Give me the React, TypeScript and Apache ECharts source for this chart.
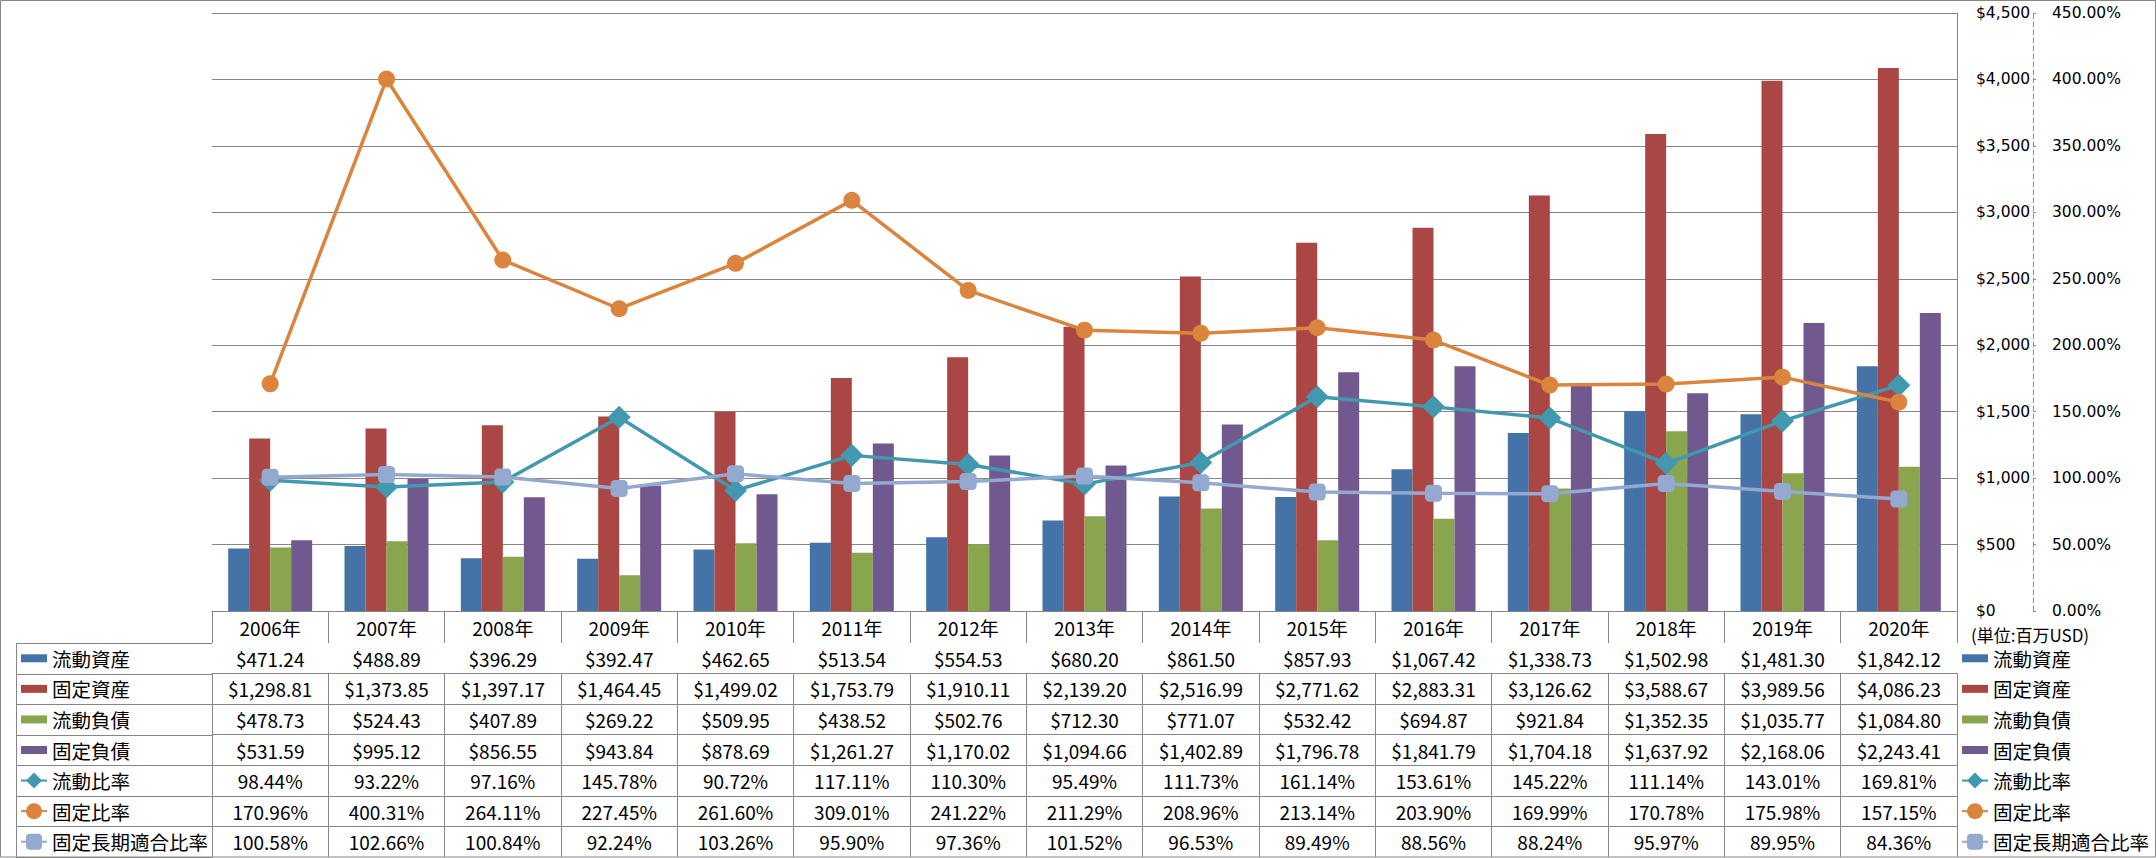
import React, { useEffect, useRef } from 'react';
import * as echarts from 'echarts';

const years = ['2006年', '2007年', '2008年', '2009年', '2010年', '2011年', '2012年', '2013年', '2014年', '2015年', '2016年', '2017年', '2018年', '2019年', '2020年'];

const currentAssets = [471.24, 488.89, 396.29, 392.47, 462.65, 513.54, 554.53, 680.20, 861.50, 857.93, 1067.42, 1338.73, 1502.98, 1481.30, 1842.12];
const fixedAssets = [1298.81, 1373.85, 1397.17, 1464.45, 1499.02, 1753.79, 1910.11, 2139.20, 2516.99, 2771.62, 2883.31, 3126.62, 3588.67, 3989.56, 4086.23];
const currentLiabilities = [478.73, 524.43, 407.89, 269.22, 509.95, 438.52, 502.76, 712.30, 771.07, 532.42, 694.87, 921.84, 1352.35, 1035.77, 1084.80];
const fixedLiabilities = [531.59, 995.12, 856.55, 943.84, 878.69, 1261.27, 1170.02, 1094.66, 1402.89, 1796.78, 1841.79, 1704.18, 1637.92, 2168.06, 2243.41];
const currentRatio = [98.44, 93.22, 97.16, 145.78, 90.72, 117.11, 110.30, 95.49, 111.73, 161.14, 153.61, 145.22, 111.14, 143.01, 169.81];
const fixedRatio = [170.96, 400.31, 264.11, 227.45, 261.60, 309.01, 241.22, 211.29, 208.96, 213.14, 203.90, 169.99, 170.78, 175.98, 157.15];
const fixedLongTermRatio = [100.58, 102.66, 100.84, 92.24, 103.26, 95.90, 97.36, 101.52, 96.53, 89.49, 88.56, 88.24, 95.97, 89.95, 84.36];

const seriesNames = ['流動資産', '固定資産', '流動負債', '固定負債', '流動比率', '固定比率', '固定長期適合比率'];
const seriesColors = ['#4572A7', '#AA4643', '#89A54E', '#71588F', '#4198AF', '#DB843D', '#93A9CF'];

const amountAxis = { min: 0, max: 4500, interval: 500 };
const ratioAxis = { min: 0, max: 450, interval: 50 };
const unitLabel = '(単位:百万USD)';

const W = 2156;
const H = 858;
const GRID_LEFT = 212;
const GRID_RIGHT_X = 1957;
const GRID_TOP = 13;
const GRID_BOTTOM_Y = 611;
const HEADER_H = 32;
const TABLE_BOTTOM = 857;
const ROW_H = (TABLE_BOTTOM - GRID_BOTTOM_Y - HEADER_H) / 7;
const GRAY = '#868686';
const GREEN = '#22DD22';
const NUM_FONT = '"Liberation Sans Narrow", "Noto Sans CJK JP", sans-serif';
const CJK_FONT = '"Noto Sans CJK JP", sans-serif';
const AXIS_FONT = '"DejaVu Sans", sans-serif';

const fmtMoney = (v: number) =>
  '$' + v.toLocaleString('en-US', { minimumFractionDigits: 2, maximumFractionDigits: 2 });
const fmtPct = (v: number) => v.toFixed(2) + '%';

const tableRows = [currentAssets, fixedAssets, currentLiabilities, fixedLiabilities, currentRatio, fixedRatio, fixedLongTermRatio];
const tableFormats = [fmtMoney, fmtMoney, fmtMoney, fmtMoney, fmtPct, fmtPct, fmtPct];

export default function App() {
  const ref = useRef<HTMLDivElement>(null);

  useEffect(() => {
    if (!ref.current) return;
    const chart = echarts.init(ref.current, undefined, { renderer: 'svg' });

    const rowAxes = tableRows.map((row, i) => ({
      type: 'category',
      data: years,
      position: 'bottom',
      offset: HEADER_H + i * ROW_H,
      axisLine: { show: true, lineStyle: { color: GRAY, width: 1 } },
      axisTick: { show: true, interval: 0, length: ROW_H, lineStyle: { color: GRAY, width: 1 } },
      axisLabel: {
        interval: 0,
        margin: ROW_H / 2,
        verticalAlign: 'middle',
        fontFamily: NUM_FONT,
        fontSize: 19,
        color: '#000',
        formatter: (_v: string, idx: number) => tableFormats[i](row[idx]),
      },
      splitLine: { show: false },
    }));

    const barSeries = [currentAssets, fixedAssets, currentLiabilities, fixedLiabilities].map((d, i) => ({
      name: seriesNames[i],
      type: 'bar',
      data: d,
      xAxisIndex: 0,
      yAxisIndex: 0,
      barWidth: 21,
      barGap: '0%',
      itemStyle: { color: seriesColors[i] },
    }));

    const lineDefs = [
      { data: currentRatio, symbol: 'diamond', size: 23 },
      { data: fixedRatio, symbol: 'circle', size: 17 },
      { data: fixedLongTermRatio, symbol: 'roundRect', size: 17 },
    ];
    const lineSeries = lineDefs.map((l, j) => ({
      name: seriesNames[4 + j],
      type: 'line',
      data: l.data,
      xAxisIndex: 0,
      yAxisIndex: 1,
      symbol: l.symbol,
      symbolSize: l.size,
      showAllSymbol: true,
      lineStyle: { color: seriesColors[4 + j], width: 3.5 },
      itemStyle: { color: seriesColors[4 + j] },
      z: 3 + j,
    }));

    const legendData = seriesNames.map((n, i) => (i < 4 ? { name: n, icon: 'path://M0,0H26V8H0Z' } : { name: n }));
    const legendTop = GRID_BOTTOM_Y + HEADER_H + ROW_H / 2 - 10;
    const legendBase = {
      orient: 'vertical',
      top: legendTop,
      itemWidth: 26,
      itemHeight: 20,
      itemGap: ROW_H - 20,
      padding: 0,
      selectedMode: false,
      symbolKeepAspect: true,
      data: legendData,
      textStyle: { fontFamily: CJK_FONT, fontSize: 19.5, color: '#000', lineHeight: 20 },
    };

    const colLines: any[] = [];
    const rowYs: number[] = [];
    for (let i = 0; i <= 7; i++) rowYs.push(Math.round(GRID_BOTTOM_Y + HEADER_H + i * ROW_H) + 0.5);
    rowYs.forEach((y) => {
      colLines.push({
        type: 'line',
        silent: true,
        shape: { x1: 16, y1: y, x2: GRID_LEFT, y2: y },
        style: { stroke: GRAY, lineWidth: 1 },
      });
    });
    colLines.push({
      type: 'line',
      silent: true,
      shape: { x1: 16.5, y1: rowYs[0], x2: 16.5, y2: TABLE_BOTTOM },
      style: { stroke: GRAY, lineWidth: 1 },
    });

    chart.setOption({
      animation: false,
      backgroundColor: '#fff',
      grid: { left: GRID_LEFT, right: W - GRID_RIGHT_X, top: GRID_TOP, bottom: H - GRID_BOTTOM_Y, containLabel: false },
      legend: [
        { ...legendBase, left: 20 },
        { ...legendBase, left: 1961 },
      ],
      xAxis: [
        {
          type: 'category',
          data: years,
          position: 'bottom',
          axisLine: { show: true, lineStyle: { color: GRAY, width: 1 } },
          axisTick: { show: true, interval: 0, length: HEADER_H, lineStyle: { color: GRAY, width: 1 } },
          axisLabel: { interval: 0, margin: HEADER_H / 2, verticalAlign: 'middle', fontFamily: NUM_FONT, fontSize: 19, color: '#000' },
          splitLine: { show: false },
        },
        ...rowAxes,
      ],
      yAxis: [
        {
          type: 'value',
          position: 'right',
          min: amountAxis.min,
          max: amountAxis.max,
          interval: amountAxis.interval,
          axisLine: { show: true, lineStyle: { color: GRAY, width: 1 } },
          axisTick: { show: false },
          splitLine: { show: true, lineStyle: { color: GRAY, width: 1 } },
          axisLabel: {
            margin: 19,
            fontFamily: AXIS_FONT,
            fontSize: 15.5,
            color: '#000',
            formatter: (v: number) => '$' + v.toLocaleString('en-US'),
          },
        },
        {
          type: 'value',
          position: 'right',
          offset: 76,
          min: ratioAxis.min,
          max: ratioAxis.max,
          interval: ratioAxis.interval,
          axisLine: { show: true, lineStyle: { color: GREEN, width: 1, type: [5, 3] } },
          axisTick: { show: true, length: 3, lineStyle: { color: GREEN, width: 1 } },
          splitLine: { show: false },
          axisLabel: {
            margin: 19,
            fontFamily: AXIS_FONT,
            fontSize: 15.5,
            color: '#000',
            formatter: (v: number) => v.toFixed(2) + '%',
          },
        },
      ],
      graphic: [
        {
          type: 'rect',
          silent: true,
          shape: { x: 0.5, y: 0.5, width: W - 1, height: H - 1.5 },
          style: { fill: 'none', stroke: GRAY, lineWidth: 1 },
          z: 100,
        },
        ...colLines,
        {
          type: 'text',
          silent: true,
          x: 1971,
          y: 634,
          style: {
            text: unitLabel,
            fontFamily: CJK_FONT,
            fontSize: 17,
            fill: '#000',
            verticalAlign: 'middle',
          },
        },
      ],
      series: [...barSeries, ...lineSeries],
    });

    return () => chart.dispose();
  }, []);

  return <div ref={ref} style={{ position: 'fixed', left: 0, top: 0, width: W, height: H }} />;
}
